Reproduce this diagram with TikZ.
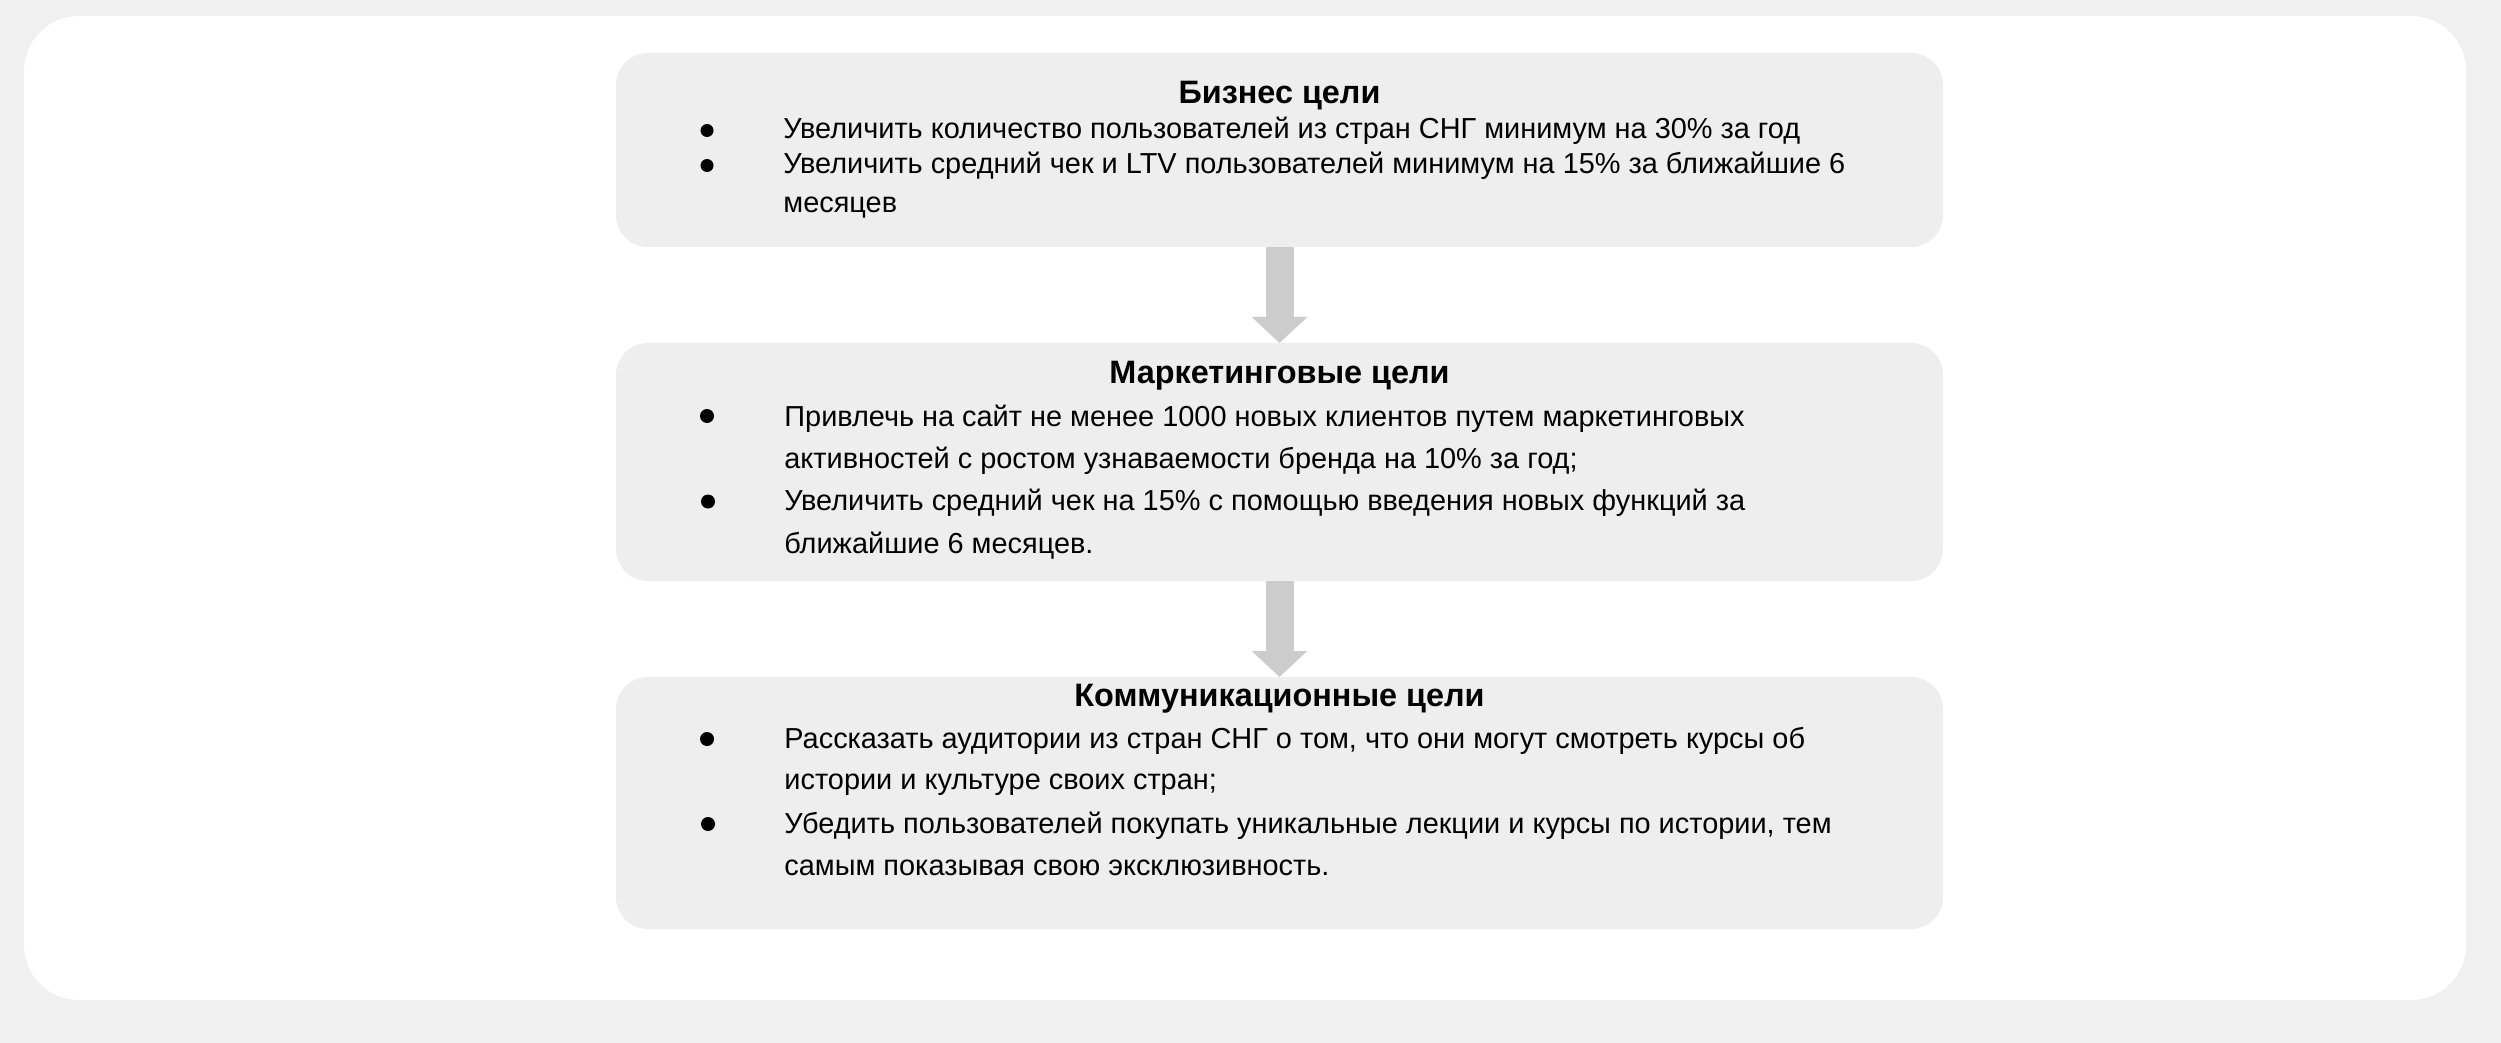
\documentclass[tikz,border=0pt]{standalone}
\usepackage{fontspec}
\setmainfont{Liberation Sans}
\usetikzlibrary{arrows.meta}
\definecolor{pagebg}{HTML}{F0F0F0}
\definecolor{boxbg}{HTML}{EEEEEE}
\definecolor{arrowgray}{HTML}{CCCCCC}
\tikzset{
  goalbox/.style={draw=none, fill=boxbg, rounded corners=16pt, minimum width=663.5pt, inner sep=0pt, outer sep=0pt},
  titletext/.style={anchor=base, inner sep=0pt, font=\fontsize{16.2}{20}\selectfont\bfseries},
  bodytext/.style={anchor=base west, inner sep=0pt, font=\fontsize{14.45}{17}\selectfont},
  bulletdot/.style={circle, fill=black, draw=none, inner sep=0pt, minimum size=#1},
  bulletdot/.default=7pt,
  fatarrow/.style={draw=arrowgray, line width=14pt, line cap=butt, -{Triangle[length=13pt, width=27pt]}}
}
\begin{document}
\begin{tikzpicture}[x=0.5pt, y=-0.5pt]
\useasboundingbox (0,0) rectangle (2501,1043);
\fill[pagebg] (0,0) rectangle (2501,1043);
\fill[white, rounded corners=27.5pt] (24,16) rectangle (2466,1000);

\node[goalbox, minimum height=97pt] (b1) at (1279.5,150) {};
\node[goalbox, minimum height=119pt] (b2) at (1279.5,462) {};
\node[goalbox, minimum height=126pt] (b3) at (1279.5,803) {};

\draw[fatarrow] (b1.south) -- (b2.north);
\draw[fatarrow] (b2.south) -- (b3.north);

% Box 1
\node[titletext] (t1) at (1279.5,104) {Бизнес цели};
\node[bulletdot=6.5pt] (p11) at (707,130.5) {};
\node[bodytext] (l11) at (783,139) {Увеличить количество пользователей из стран СНГ минимум на 30\% за год};
\node[bulletdot=6.5pt] (p12) at (707,165.5) {};
\node[bodytext] (l12) at (783,174) {Увеличить средний чек и LTV пользователей минимум на 15\% за ближайшие 6};
\node[bodytext] (l13) at (783,213) {месяцев};

% Box 2
\node[titletext] (t2) at (1279.5,383) {Маркетинговые цели};
\node[bulletdot] (p21) at (707,416) {};
\node[bodytext] (l21) at (784,426) {Привлечь на сайт не менее 1000 новых клиентов путем маркетинговых};
\node[bodytext] (l22) at (784,468) {активностей с ростом узнаваемости бренда на 10\% за год;};
\node[bulletdot] (p22) at (708,501.5) {};
\node[bodytext] (l23) at (784,510.5) {Увеличить средний чек на 15\% с помощью введения новых функций за};
\node[bodytext] (l24) at (784,553.5) {ближайшие 6 месяцев.};

% Box 3
\node[titletext] (t3) at (1279.5,706) {Коммуникационные цели};
\node[bulletdot] (p31) at (707,739) {};
\node[bodytext] (l31) at (784,748) {Рассказать аудитории из стран СНГ о том, что они могут смотреть курсы об};
\node[bodytext] (l32) at (784,789.5) {истории и культуре своих стран;};
\node[bulletdot] (p32) at (708,824) {};
\node[bodytext] (l33) at (784,833) {Убедить пользователей покупать уникальные лекции и курсы по истории, тем};
\node[bodytext] (l34) at (784,875) {самым показывая свою эксклюзивность.};
\end{tikzpicture}
\end{document}
